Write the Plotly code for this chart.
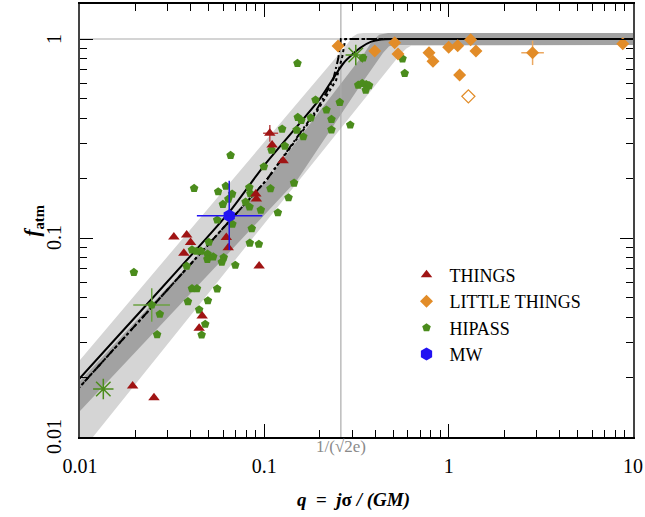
import math
import plotly.graph_objects as go

# ---------------- data ----------------
# THINGS (dark red triangles)
things_q = [0.0323, 0.0379, 0.0398, 0.0366, 0.0622, 0.0637, 0.0937, 0.0899, 0.0905,
            0.0460, 0.0443, 0.0193, 0.0252, 0.1102, 0.1264]
things_f = [0.1012, 0.1035, 0.0949, 0.0838, 0.1006, 0.0894, 0.0723, 0.1664, 0.157,
            0.0406, 0.0352, 0.01804, 0.01576, 0.2934, 0.2445]
things_err_q = [0.1071]
things_err_f = [0.336]
things_err_qlo = [0.0985]
things_err_qhi = [0.1188]
things_err_flo = [0.305]
things_err_fhi = [0.3697]

# LITTLE THINGS (orange diamonds)
lt_q = [0.2512, 0.3971, 0.5097, 0.531, 0.782, 0.822, 1.0, 1.119, 1.316, 1.406, 1.147, 8.80]
lt_f = [0.922, 0.870, 0.958, 0.841, 0.853, 0.773, 0.909, 0.926, 0.992, 0.870, 0.659, 0.947]
lt_open_q = [1.279]
lt_open_f = [0.515]
lt_err_q = [2.853]
lt_err_f = [0.853]
lt_err_qlo = [2.477]
lt_err_qhi = [3.285]
lt_err_flo = [0.740]
lt_err_fhi = [0.981]

# HIPASS (green pentagons)
hipass_q = [0.0656, 0.0416, 0.0562, 0.0618, 0.0669, 0.0638, 0.0596, 0.0829, 0.0840, 0.0994,
            0.108, 0.0791, 0.0831, 0.0957, 0.1184, 0.0555, 0.0671, 0.0855, 0.050, 0.0405,
            0.0428, 0.0453, 0.0492, 0.0491, 0.0528, 0.0602, 0.0588, 0.0696, 0.0834, 0.0934,
            0.0379, 0.0196, 0.0405, 0.0431, 0.0555, 0.0385, 0.0494, 0.0443, 0.0478, 0.0271,
            0.0262, 0.0457, 0.145, 0.1353, 0.1292, 0.1094, 0.1249, 0.1497, 0.1627, 0.1519,
            0.1587, 0.1786, 0.1895, 0.2173, 0.2566, 0.2313, 0.2313, 0.2925, 0.3232, 0.3398,
            0.3571, 0.3698, 0.3549, 0.3432, 0.1513, 0.5619, 0.5775]
hipass_f = [0.2604, 0.1777, 0.1709, 0.1825, 0.1664, 0.157, 0.1477, 0.1794, 0.1673, 0.2282,
            0.1773, 0.1517, 0.1432, 0.1383, 0.134, 0.1232, 0.1173, 0.1116, 0.0953, 0.0872,
            0.0859, 0.086, 0.0831, 0.0782, 0.0805, 0.0798, 0.0757, 0.073, 0.0944, 0.0931,
            0.0723, 0.0672, 0.0557, 0.0557, 0.0556, 0.0479, 0.0484, 0.0436, 0.0369, 0.0414,
            0.0327, 0.0326, 0.189, 0.1594, 0.290, 0.2768, 0.353, 0.349, 0.323, 0.404,
            0.3905, 0.402, 0.494, 0.44, 0.481, 0.395, 0.350, 0.370, 0.587, 0.599,
            0.591, 0.584, 0.554, 0.803, 0.755, 0.796, 0.672]
hipass_err_q = [0.0245]
hipass_err_f = [0.0461]
hipass_err_qlo = [0.01945]
hipass_err_qhi = [0.03075]
hipass_err_flo = [0.03797]
hipass_err_fhi = [0.0559]
star_q = [0.01338, 0.3133]
star_f = [0.01743, 0.831]

# Milky Way
mw_q = [0.0645]
mw_f = [0.1295]
mw_qlo = [0.04306]
mw_qhi = [0.09754]
mw_flo = [0.0871]
mw_fhi = [0.1941]

# model curves
solid_q = [0.008, 0.01, 0.0245, 0.0645, 0.0985, 0.2, 0.27, 0.33, 0.38, 0.43, 0.5, 12]
solid_f = [0.0156, 0.0198, 0.0494, 0.135, 0.228, 0.5, 0.76, 0.9, 0.97, 0.995, 1.0, 1.0]
dashdot_q = [0.008, 0.01, 0.1028, 0.192, 0.236, 0.252, 0.26, 12]
dashdot_f = [0.0142, 0.0179, 0.1957, 0.44, 0.62, 0.8, 1.0, 1.0]
dotted_q = [0.008, 0.01, 0.1028, 0.192, 0.245, 0.265, 0.275, 12]
dotted_f = [0.0142, 0.0179, 0.1957, 0.43, 0.62, 0.82, 1.0, 1.0]

# scatter bands
light_q = [0.008, 0.28, 0.30, 0.32, 0.345, 12, 12, 0.67, 0.625, 0.59, 0.5426, 0.01176, 0.00966]
light_f = [0.0191, 0.937, 1.025, 1.062, 1.072, 1.072, 0.933, 0.933, 0.925, 0.895, 0.831, 0.01, 0.008]
dark_q = [0.01, 0.104, 0.2, 0.35, 0.38, 0.42, 0.47, 12, 12, 0.52, 0.475, 0.44, 0.33, 0.2265, 0.151, 0.01]
dark_f = [0.0191, 0.1957, 0.4345, 0.853, 0.96, 1.05, 1.072, 1.072, 0.933, 0.933, 0.92, 0.85, 0.58, 0.346, 0.196, 0.0135]

REF_Q = 1.0 / (math.sqrt(2.0) * math.e)
REF_F = 1.0

x_ticks = [0.01, 0.1, 1, 10]
x_ticktext = ["0.01", "0.1", "1", "10"]
y_ticks = [0.01, 0.1, 1]
y_ticktext = ["0.01", "0.1", "1"]

RED = "#a01414"
ORANGE = "#e28c28"
GREEN = "#4b8c1c"
BLUE = "#2212f2"
FONT = "Liberation Serif, Times New Roman, DejaVu Serif, serif"

fig = go.Figure()

fig.add_trace(go.Scatter(x=light_q, y=light_f, fill="toself", fillcolor="#d5d5d5",
                         line=dict(width=0), mode="lines", showlegend=False, hoverinfo="skip"))
fig.add_trace(go.Scatter(x=dark_q, y=dark_f, fill="toself", fillcolor="#a2a2a2",
                         line=dict(width=0), mode="lines", showlegend=False, hoverinfo="skip"))

# reference lines
fig.add_trace(go.Scatter(x=[0.005, 20], y=[REF_F, REF_F], mode="lines",
                         line=dict(color="#aaaaaa", width=1.2), showlegend=False, hoverinfo="skip"))
fig.add_trace(go.Scatter(x=[REF_Q, REF_Q], y=[0.005, 3], mode="lines",
                         line=dict(color="#aaaaaa", width=1.2), showlegend=False, hoverinfo="skip"))

# model curves
fig.add_trace(go.Scatter(x=dotted_q, y=dotted_f, mode="lines",
                         line=dict(color="black", width=2, dash="dot"), showlegend=False))
fig.add_trace(go.Scatter(x=dashdot_q, y=dashdot_f, mode="lines",
                         line=dict(color="black", width=2, dash="9px,3px,2px,3px"), showlegend=False))
fig.add_trace(go.Scatter(x=solid_q, y=solid_f, mode="lines",
                         line=dict(color="black", width=2, shape="spline", smoothing=0.6),
                         showlegend=False))

def err(c, lo, hi):
    return [h - v for v, h in zip(c, hi)], [v - l for v, l in zip(c, lo)]

# HIPASS
fig.add_trace(go.Scatter(x=hipass_q, y=hipass_f, mode="markers", name="HIPASS",
                         marker=dict(symbol="pentagon", size=9, color=GREEN),
                         legendgroup="c", legendrank=3))
ep, em = err(hipass_err_q, hipass_err_qlo, hipass_err_qhi)
fp, fm = err(hipass_err_f, hipass_err_flo, hipass_err_fhi)
fig.add_trace(go.Scatter(x=hipass_err_q, y=hipass_err_f, mode="markers", showlegend=False,
                         marker=dict(symbol="pentagon", size=9, color=GREEN),
                         error_x=dict(type="data", array=ep, arrayminus=em, color="#6aa040", thickness=1.5, width=0),
                         error_y=dict(type="data", array=fp, arrayminus=fm, color="#6aa040", thickness=1.5, width=0)))
fig.add_trace(go.Scatter(x=star_q, y=star_f, mode="markers", showlegend=False,
                         marker=dict(symbol="asterisk-open", size=17, color=GREEN,
                                     line=dict(color=GREEN, width=1.5))))

# THINGS
fig.add_trace(go.Scatter(x=things_q, y=things_f, mode="markers", name="THINGS",
                         marker=dict(symbol="triangle-up", size=10, color=RED),
                         legendgroup="a", legendrank=1))
ep, em = err(things_err_q, things_err_qlo, things_err_qhi)
fp, fm = err(things_err_f, things_err_flo, things_err_fhi)
fig.add_trace(go.Scatter(x=things_err_q, y=things_err_f, mode="markers", showlegend=False,
                         marker=dict(symbol="triangle-up", size=10, color=RED),
                         error_x=dict(type="data", array=ep, arrayminus=em, color="#b84848", thickness=1.5, width=0),
                         error_y=dict(type="data", array=fp, arrayminus=fm, color="#b84848", thickness=1.5, width=0)))

# LITTLE THINGS
fig.add_trace(go.Scatter(x=lt_q, y=lt_f, mode="markers", name="LITTLE THINGS",
                         marker=dict(symbol="diamond", size=10, color=ORANGE),
                         legendgroup="b", legendrank=2))
fig.add_trace(go.Scatter(x=lt_open_q, y=lt_open_f, mode="markers", showlegend=False,
                         marker=dict(symbol="diamond-open", size=10, color=ORANGE,
                                     line=dict(color=ORANGE, width=1.3))))
ep, em = err(lt_err_q, lt_err_qlo, lt_err_qhi)
fp, fm = err(lt_err_f, lt_err_flo, lt_err_fhi)
fig.add_trace(go.Scatter(x=lt_err_q, y=lt_err_f, mode="markers", showlegend=False,
                         marker=dict(symbol="diamond", size=10, color=ORANGE),
                         error_x=dict(type="data", array=ep, arrayminus=em, color="#eba861", thickness=1.5, width=0),
                         error_y=dict(type="data", array=fp, arrayminus=fm, color="#eba861", thickness=1.5, width=0)))

# MW
ep, em = err(mw_q, mw_qlo, mw_qhi)
fp, fm = err(mw_f, mw_flo, mw_fhi)
fig.add_trace(go.Scatter(x=mw_q, y=mw_f, mode="markers", name="MW",
                         marker=dict(symbol="hexagon", size=13, color=BLUE),
                         error_x=dict(type="data", array=ep, arrayminus=em, color=BLUE, thickness=1.5, width=0),
                         error_y=dict(type="data", array=fp, arrayminus=fm, color=BLUE, thickness=1.5, width=0),
                         legendgroup="d", legendrank=4))

minor_x = [d * 10.0 ** e for e in (-2, -1, 0) for d in range(2, 10)]
minor_y = [d * 10.0 ** e for e in (-2, -1) for d in range(2, 10)]

annotations = [
    dict(x=math.log10(REF_Q), y=-0.023, xref="x", yref="paper", text="1/(√2e)",
         showarrow=False, font=dict(family=FONT, size=17, color="#8a8a8a"),
         xanchor="center", yanchor="middle"),
    dict(x=0.494, y=-0.1455, xref="paper", yref="paper",
         text="<b><i>q</i>  =  <i>j</i>σ<i> / (GM)</i></b>", showarrow=False,
         font=dict(family=FONT, size=19), xanchor="center", yanchor="middle"),
    dict(x=-0.085, y=0.5, xref="paper", yref="paper", textangle=-90,
         text="<b><i>f</i></b><sub><b>atm</b></sub>", showarrow=False,
         font=dict(family=FONT, size=21), xanchor="center", yanchor="middle"),
]
# rotated y tick labels
for v, t in zip(y_ticks, y_ticktext):
    annotations.append(dict(x=-0.047, y=math.log10(v), xref="paper", yref="y", text=t,
                            textangle=-90, showarrow=False, font=dict(family=FONT, size=20),
                            xanchor="center", yanchor="middle"))

fig.update_layout(
    width=645, height=517,
    margin=dict(l=80, r=12, t=4, b=80),
    paper_bgcolor="white", plot_bgcolor="white",
    font=dict(family=FONT, size=19, color="black"),
    legend=dict(x=0.585, y=0.4165, xanchor="left", yanchor="top",
                bgcolor="rgba(0,0,0,0)", font=dict(family=FONT, size=18),
                tracegroupgap=1, traceorder="normal", itemwidth=36),
    xaxis=dict(type="log", range=[-2, 1], tickmode="array", tickvals=x_ticks, ticktext=x_ticktext,
               ticks="inside", ticklen=13, tickwidth=1.2, tickcolor="black",
               showline=True, linecolor="black", linewidth=1.5, mirror="allticks",
               showgrid=False, zeroline=False, ticklabelstandoff=10, automargin=False,
               tickfont=dict(family=FONT, size=20),
               minor=dict(tickmode="array", tickvals=minor_x, ticks="inside", ticklen=7,
                          tickwidth=1.2, tickcolor="black", showgrid=False)),
    yaxis=dict(type="log", range=[-2, 0.176], tickmode="array", tickvals=y_ticks,
               showticklabels=False, ticks="inside", ticklen=13, tickwidth=1.2, tickcolor="black",
               showline=True, linecolor="#444444", linewidth=2, mirror="allticks",
               showgrid=False, zeroline=False, automargin=False,
               minor=dict(tickmode="array", tickvals=minor_y, ticks="inside", ticklen=7,
                          tickwidth=1.2, tickcolor="black", showgrid=False)),
    annotations=annotations,
)

fig.write_html("out.html", post_script="document.body.style.margin='0px';",
               config={"displayModeBar": False})
